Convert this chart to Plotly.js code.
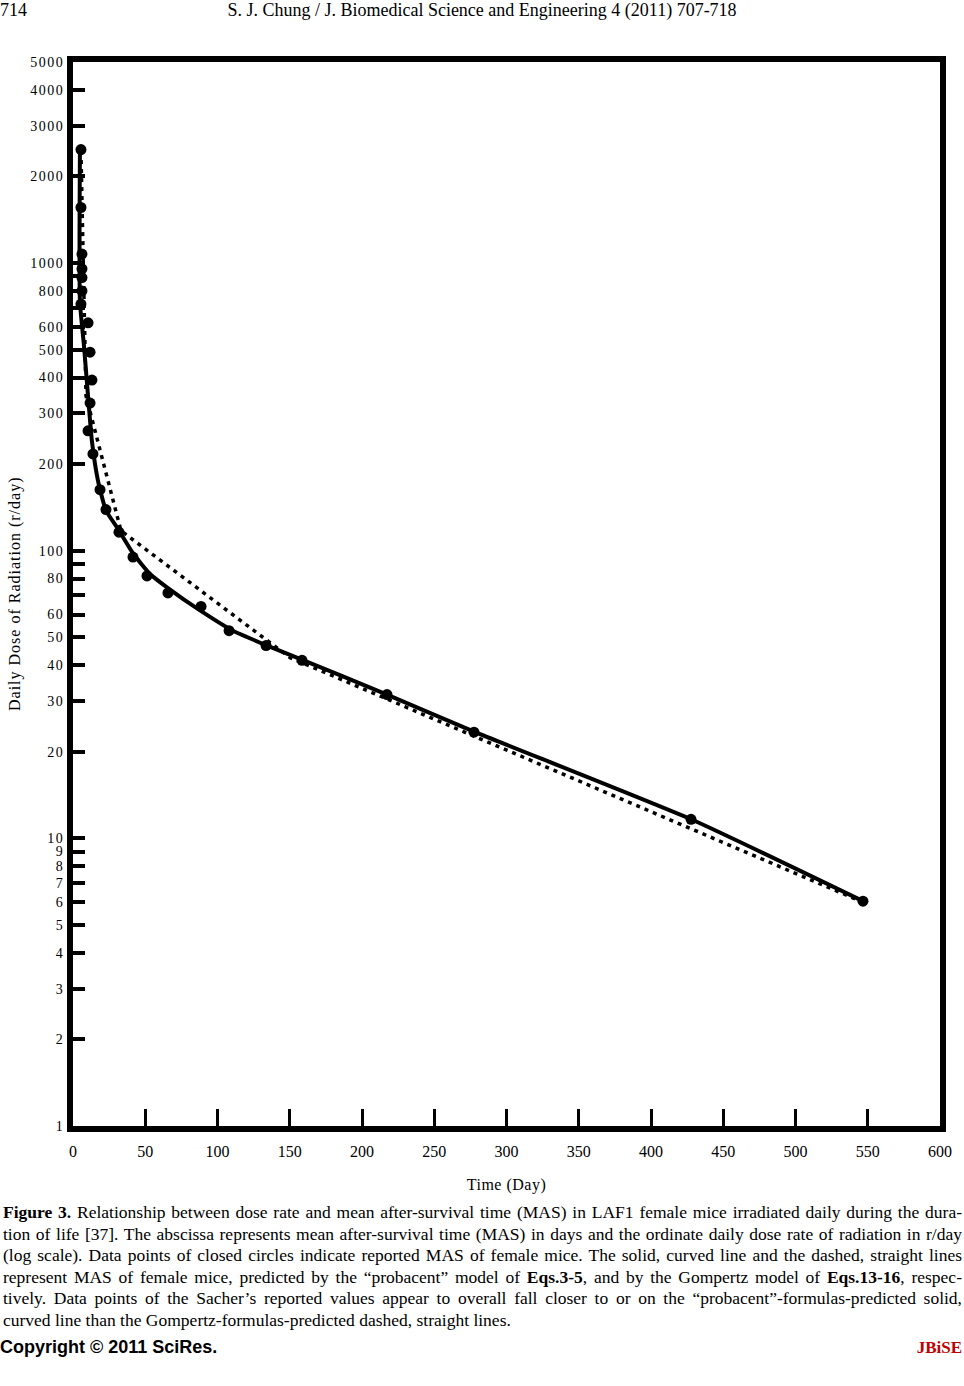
<!DOCTYPE html>
<html>
<head>
<meta charset="utf-8">
<script src="https://cdn.plot.ly/plotly-3.0.1.min.js"></script>
<style>
  body { margin: 0; background: #fff; }
  #page { position: relative; width: 964px; height: 1386px; overflow: hidden; }
  #tester { position: absolute; left: 0; top: 0; width: 964px; height: 1200px; }
  .hdr { position: absolute; top: -1px; font-family: "Liberation Serif", serif; font-size: 18px; line-height: 22px; }
  #caption { position: absolute; left: 3px; top: 1202px; width: 959px; font-family: "Liberation Serif", serif; font-size: 17.5px; line-height: 21.5px; }
  #caption div { white-space: nowrap; text-align: justify; text-align-last: justify; }
  #caption div.last { text-align-last: left; }
  .ytick text { letter-spacing: 1.5px; }
  .xtitle { letter-spacing: 0.5px; }
  .annotation-text { letter-spacing: 1px; }
</style>
</head>
<body>
<div id="page">
  <div id="tester"></div>
  <div class="hdr" style="left:0">714</div>
  <div class="hdr" style="left:0; width:964px; text-align:center">S. J. Chung / J. Biomedical Science and Engineering 4 (2011) 707-718</div>
  <div id="caption">
    <div><b>Figure 3.</b> Relationship between dose rate and mean after-survival time (MAS) in LAF1 female mice irradiated daily during the dura-</div>
    <div>tion of life [37]. The abscissa represents mean after-survival time (MAS) in days and the ordinate daily dose rate of radiation in r/day</div>
    <div>(log scale). Data points of closed circles indicate reported MAS of female mice. The solid, curved line and the dashed, straight lines</div>
    <div>represent MAS of female mice, predicted by the “probacent” model of <b>Eqs.3-5</b>, and by the Gompertz model of <b>Eqs.13-16</b>, respec-</div>
    <div>tively. Data points of the Sacher’s reported values appear to overall fall closer to or on the “probacent”-formulas-predicted solid,</div>
    <div class="last">curved line than the Gompertz-formulas-predicted dashed, straight lines.</div>
  </div>
  <div style="position:absolute; left:0; top:1337px; font-family:'Liberation Sans', sans-serif; font-weight:bold; font-size:18px;">Copyright © 2011 SciRes.</div>
  <div style="position:absolute; right:2px; top:1338px; font-family:'Liberation Serif', serif; font-weight:bold; font-size:17px; color:#c00000;">JBiSE</div>
</div>
<script>
// reported MAS of female mice (closed circles)
let pointDays = [5.5, 5.5, 6.2, 6.2, 6.2, 6.2, 5.5, 10.4, 11.8, 13.1, 11.8, 10.4, 13.8, 18.7, 22.8, 31.8, 41.5, 51.2, 65.7, 88.6, 108, 133.6, 158.5, 217.3, 277.5, 427.7, 546.7];
let pointDose = [2480, 1560, 1075, 955, 890, 800, 720, 620, 490, 392, 326, 261, 217, 163, 139, 116, 95, 81.7, 71.3, 64, 52.7, 46.8, 41.6, 31.6, 23.4, 11.65, 6.05];

// probacent model (solid, curved)
let probDays = [4.8, 4.8, 7.6, 10.4, 13.1, 17.3, 22.8, 30.4, 41.5, 53.3, 65, 87.9, 110.7, 134.3, 157, 217.3, 277.5, 427.7, 546.7];
let probDose = [2480, 735, 515, 345, 240, 175, 138, 120.7, 98, 83, 74.6, 62, 52.7, 46.8, 42.1, 31.6, 23.5, 11.65, 6.05];

// Gompertz model (dashed, straight)
let gompDays = [5.5, 9.0, 33.2, 150.2, 546.7];
let gompDose = [2450, 345, 117.3, 42.5, 6.0];

let xTicks = [0, 50, 100, 150, 200, 250, 300, 350, 400, 450, 500, 550, 600];
let yTicks = [1, 2, 3, 4, 5, 6, 7, 8, 9, 10, 20, 30, 40, 50, 60, 70, 80, 90, 100, 200, 300, 400, 500, 600, 700, 800, 900, 1000, 2000, 3000, 4000, 5000];
let yLabels = ['1', '2', '3', '4', '5', '6', '7', '8', '9', '10', '20', '30', '40', '50', '60', '', '80', '', '100', '200', '300', '400', '500', '600', '', '800', '', '1000', '2000', '3000', '4000', '5000'];

let serif = '"Liberation Serif", "Times New Roman", serif';

var gomp = {
    x: gompDays, y: gompDose, mode: 'lines', name: 'Gompertz',
    line: {color: '#000', width: 3.5, dash: '4px,5px'}
};
var prob = {
    x: probDays, y: probDose, mode: 'lines', name: 'probacent',
    line: {color: '#000', width: 4, shape: 'spline', smoothing: 0.5}
};
var pts = {
    x: pointDays, y: pointDose, mode: 'markers', name: 'reported',
    marker: {color: '#000', size: 11}
};

var layout = {
    width: 964, height: 1200,
    showlegend: false,
    paper_bgcolor: 'rgba(0,0,0,0)', plot_bgcolor: '#fff',
    margin: {l: 73, r: 24, t: 62, b: 74, pad: 0},
    font: {family: serif, color: '#000', size: 14},
    xaxis: {
        range: [0, 600], tickvals: xTicks, ticktext: xTicks.map(String),
        ticks: 'inside', ticklen: 17, tickwidth: 3, tickcolor: '#000',
        showline: true, linewidth: 6, linecolor: '#000', mirror: true,
        showgrid: false, zeroline: false,
        ticklabelstandoff: 6,
        tickfont: {family: serif, size: 16},
        title: {text: 'Time (Day)', font: {family: serif, size: 16}, standoff: 22}
    },
    yaxis: {
        type: 'log', range: [0, Math.log10(5000)],
        tickvals: yTicks, ticktext: yLabels,
        ticks: 'inside', ticklen: 12, tickwidth: 4, tickcolor: '#000',
        showline: true, linewidth: 6, linecolor: '#000', mirror: true,
        showgrid: false, zeroline: false,
        tickfont: {family: serif, size: 14}
    },
    annotations: [{
        text: 'Daily Dose of Radiation (r/day)', textangle: -90,
        xref: 'paper', yref: 'paper', x: (15 - 73) / 867, y: 0.5,
        xanchor: 'center', yanchor: 'middle', showarrow: false,
        font: {family: serif, size: 16}
    }]
};

Plotly.newPlot('tester', [gomp, prob, pts], layout, {displayModeBar: false, staticPlot: true});
</script>
</body>
</html>
